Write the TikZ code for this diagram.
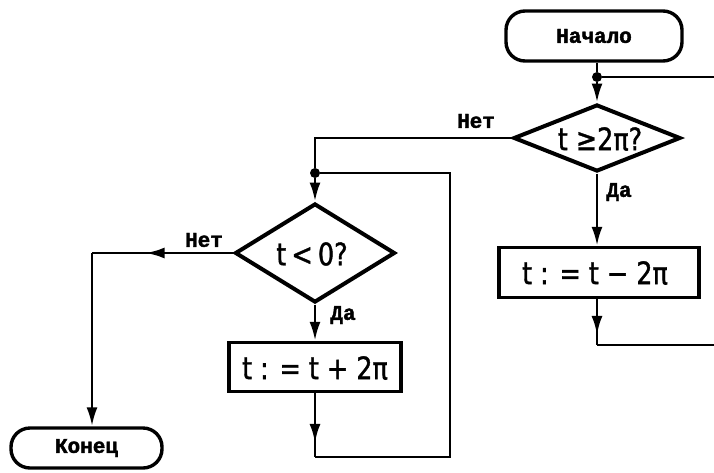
\documentclass[tikz,border=0pt]{standalone}
\usepackage{fontspec}
\usetikzlibrary{shapes.geometric,arrows.meta,decorations.markings}
\newfontfamily\lblfont[FakeBold=2]{Liberation Mono}
\newfontfamily\mathtxtfont[FakeStretch=0.82,FakeBold=1.2]{DejaVu Sans}
\tikzset{
  box/.style={draw,line width=3.4pt,rectangle,inner sep=0pt},
  term/.style={draw,line width=3.4pt,rectangle,rounded corners=19pt,inner sep=0pt,font=\lblfont\bfseries\fontsize{21}{21}\selectfont},
  diam/.style={draw,line width=4pt,diamond,inner sep=0pt},
  mtxt/.style={font=\mathtxtfont\fontsize{31}{31}\selectfont,inner sep=0pt},
  lbl/.style={font=\lblfont\bfseries\fontsize{21}{21}\selectfont,inner sep=0pt},
  conn/.style={line width=2.8pt},
  endarrow/.style={-{Latex[length=19pt,width=11pt]}},
  midarrow/.style={postaction={decorate},decoration={markings,mark=at position #1 with {\arrow{Latex[length=19pt,width=11pt]}}}},
  dot/.style={circle,fill,inner sep=0pt,minimum size=10pt}
}
\begin{document}
\begin{tikzpicture}[x=1pt,y=-1pt]
\useasboundingbox (0,0) rectangle (714,472);
% nodes
\node[term,minimum width=176pt,minimum height=50pt] (start) at (594,36) {Начало};
\node[dot] (j1) at (597,77) {};
\coordinate (r1) at (714,77);
\node[diam,minimum width=167pt,minimum height=67pt] (d1) at (597,138) {};
\node[mtxt] (d1t) at (600,139) {t ≥2π?};
\node[box,minimum width=200pt,minimum height=50pt] (b1) at (599,272.5) {};
\node[mtxt] (b1t) at (595,273) {t : = t − 2π};
\coordinate (c5) at (597,345);
\coordinate (r2) at (714,345);
\coordinate (c6) at (315,138);
\node[dot] (j2) at (315,173) {};
\node[diam,minimum width=160pt,minimum height=99pt] (d2) at (315,253) {};
\node[mtxt] (d2t) at (312,254) {t\,<\,0?};
\node[box,minimum width=172pt,minimum height=49pt] (b2) at (315,367) {};
\node[mtxt] (b2t) at (315,368) {t : = t + 2π};
\coordinate (c1) at (315,457);
\coordinate (c2) at (450,457);
\coordinate (c3) at (450,173);
\coordinate (c7) at (92,253);
\node[term,minimum width=151pt,minimum height=40pt] (stop) at (86.5,448) {Конец};
% labels
\node[lbl] (no1) at (476,121) {Нет};
\node[lbl] (yes1) at (619,192) {Да};
\node[lbl] (no2) at (204,240) {Нет};
\node[lbl] (yes2) at (343,315) {Да};
% connectors
\draw[conn] (start.south -| j1) -- (j1);
\draw[conn] (j1) -- (r1);
\draw[conn,endarrow] (j1) -- (d1.north);
\draw[conn,endarrow] (d1.south) -- (d1.south |- b1.north);
\draw[conn,midarrow=0.78] (b1.south -| c5) -- (c5);
\draw[conn] (c5) -- (r2);
\draw[conn] (d1.west) -- (c6) -- (j2);
\draw[conn,endarrow] (j2) -- (d2.north);
\draw[conn,endarrow] (d2.south) -- (b2.north);
\draw[conn,midarrow=0.78] (b2.south) -- (c1);
\draw[conn] (c1) -- (c2) -- (c3) -- (j2);
\draw[conn,midarrow=0.62] (d2.west) -- (c7);
\draw[conn,endarrow] (c7) -- (c7 |- stop.north);
\end{tikzpicture}
\end{document}
